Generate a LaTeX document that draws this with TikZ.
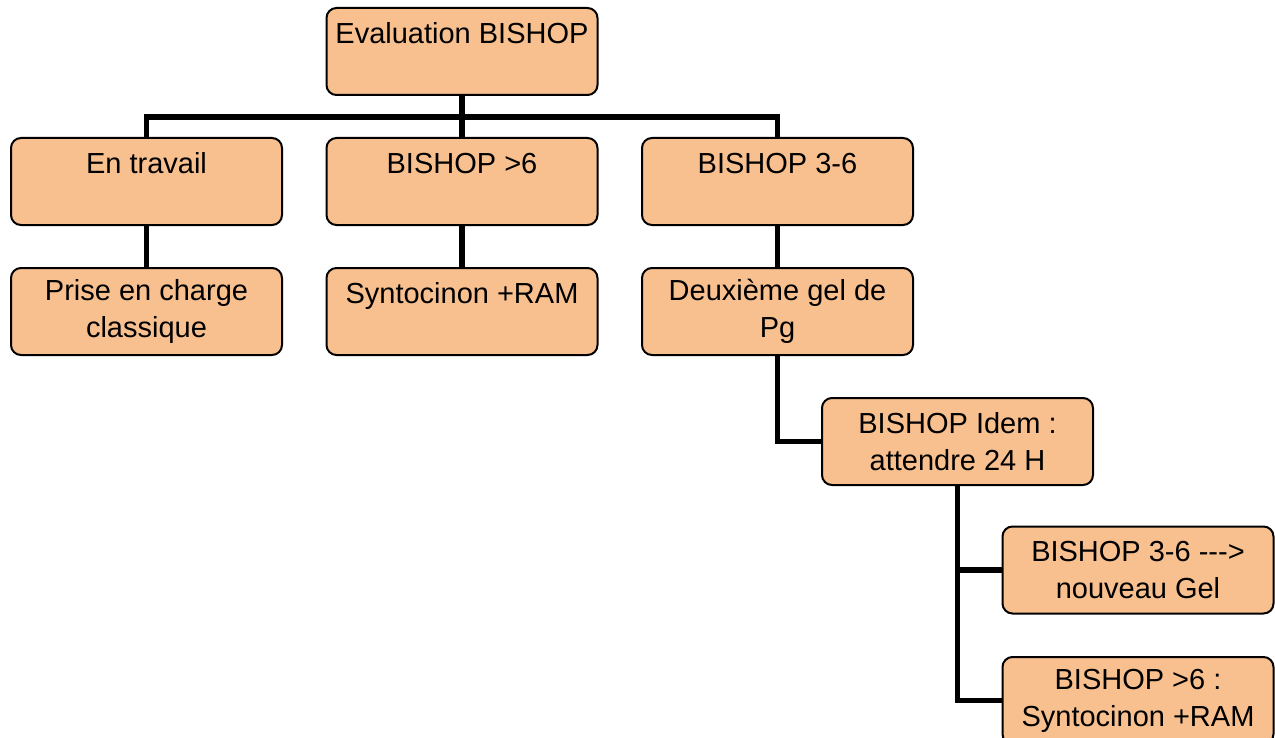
\documentclass[tikz,border=0pt]{standalone}
\usepackage{fontspec}
\setmainfont{Liberation Sans}
\definecolor{peche}{RGB}{249,192,143}
\tikzset{
  boite/.style={draw=black, line width=1pt, fill=peche, rounded corners=5pt,
    minimum width=135.5pt, minimum height=43.5pt, align=center, inner sep=2pt,
    font=\fontsize{14.5}{18.5}\selectfont},
  lien/.style={line width=2.7pt, black}
}
\begin{document}
\begin{tikzpicture}[x=0.5pt, y=-0.5pt]
  \useasboundingbox (0,0) rectangle (1275,738);
  % cases
  \node[boite] (racine) at (462,51.5) {Evaluation BISHOP\\ \mbox{}};
  \node[boite] (travail) at (146.5,181.5) {En travail\\ \mbox{}};
  \node[boite] (supsix) at (462,181.5) {BISHOP >6\\ \mbox{}};
  \node[boite] (troissix) at (777.5,181.5) {BISHOP 3-6\\ \mbox{}};
  \node[boite] (prise) at (146.5,311.5) {Prise en charge\\classique};
  \node[boite] (synto) at (462,311.5) {Syntocinon +RAM\\ \mbox{}};
  \node[boite] (gel) at (777.5,311.5) {Deuxième gel de\\Pg};
  \node[boite] (idem) at (957.5,441.5) {BISHOP Idem :\\attendre 24 H};
  \node[boite] (nouveau) at (1138,570) {BISHOP 3-6 -{}-{}->\\nouveau Gel};
  \node[boite] (final) at (1138,700.5) {BISHOP >6 :\\Syntocinon +RAM};
  % liens
  \coordinate (barre) at (462,117);
  \draw[lien] (racine) -- (supsix);
  \draw[lien] (travail.north) |- (barre) -| (troissix.north);
  \draw[lien] (travail) -- (prise);
  \draw[lien] (supsix) -- (synto);
  \draw[lien] (troissix) -- (gel);
  \draw[lien] (gel.south) |- (idem.west);
  \draw[lien] (idem.south) |- (final.west);
  \draw[lien] (idem.south |- nouveau.west) -- (nouveau.west);
\end{tikzpicture}
\end{document}
